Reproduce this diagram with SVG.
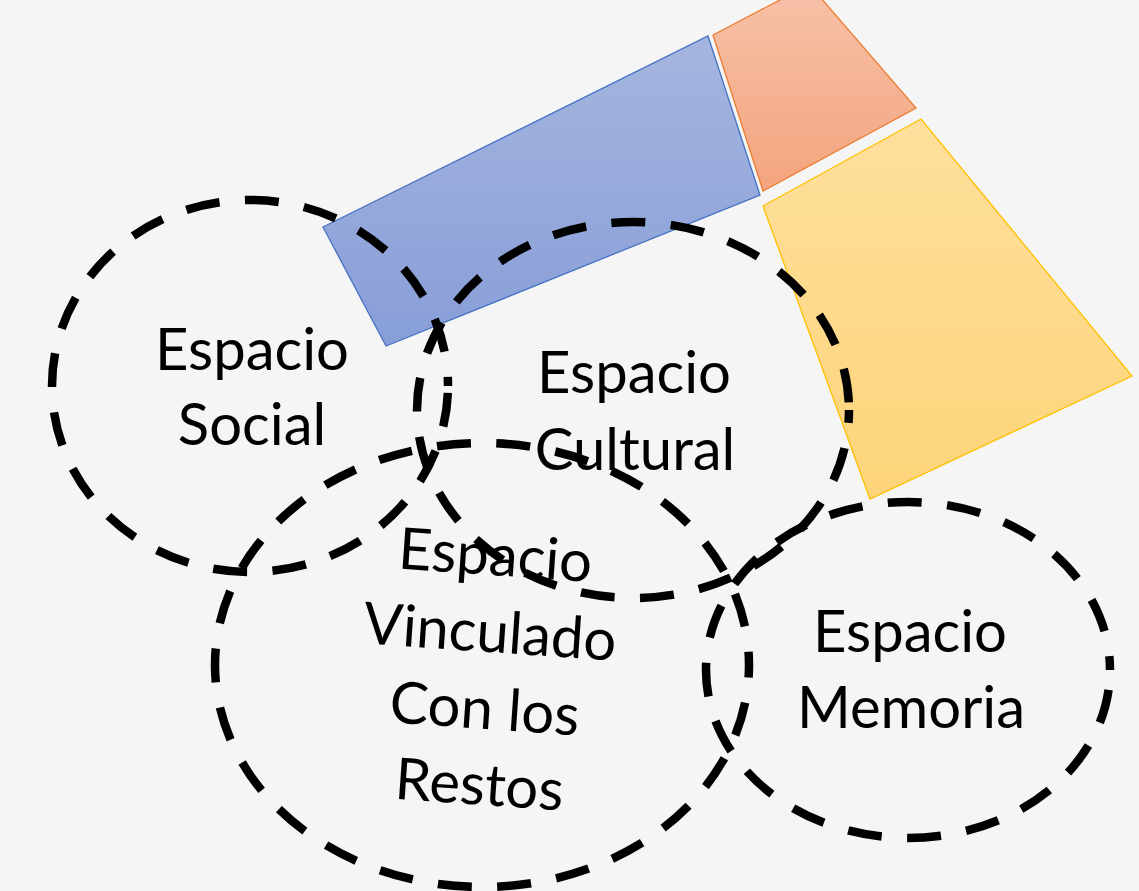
<svg xmlns="http://www.w3.org/2000/svg" width="1139" height="891" viewBox="0 0 1139 891">
  <defs>
    <linearGradient id="gBlue" x1="0" y1="0" x2="0" y2="1">
      <stop offset="0" stop-color="#a6b5df"/>
      <stop offset="1" stop-color="#889ed8"/>
    </linearGradient>
    <linearGradient id="gOrange" x1="0" y1="0" x2="0" y2="1">
      <stop offset="0" stop-color="#f7c1a8"/>
      <stop offset="1" stop-color="#f4a47e"/>
    </linearGradient>
    <linearGradient id="gYellow" x1="0" y1="0" x2="0" y2="1">
      <stop offset="0" stop-color="#fedf9c"/>
      <stop offset="1" stop-color="#fdd47a"/>
    </linearGradient>
  </defs>
  <style>
    .ring { fill: none; stroke: #000; stroke-width: 8.5; stroke-dasharray: 34 25.5; }
    .lbl { font-family: Lato, "Liberation Sans", sans-serif; font-size: 58px; fill: #000; text-anchor: middle; }
  </style>
  <rect x="0" y="0" width="1139" height="891" fill="#f5f5f5"/>

  <g id="shapes">
    <polygon id="blue-band" points="323,227 708,36 760,195 386,346" fill="url(#gBlue)" stroke="#4472c4" stroke-width="1.3"/>
    <polygon id="orange-band" points="713,35 799,-10 814,-10 916,108 763,191" fill="url(#gOrange)" stroke="#ed7d31" stroke-width="1.3"/>
    <polygon id="yellow-band" points="763,206 921,119 1132,376 870,499" fill="url(#gYellow)" stroke="#ffc000" stroke-width="1.3"/>
  </g>

  <g id="connectors"></g>

  <g id="espacio-social">
    <ellipse class="ring" cx="250" cy="386" rx="198" ry="186" stroke-dashoffset="-7"/>
    <text class="lbl" x="252" y="370">Espacio</text>
    <text class="lbl" x="252" y="445">Social</text>
  </g>

  <g id="espacio-cultural">
    <ellipse class="ring" cx="633" cy="410" rx="216" ry="188" stroke-dashoffset="21"/>
    <text class="lbl" x="634" y="393">Espacio</text>
    <text class="lbl" x="635" y="470">Cultural</text>
  </g>

  <g id="espacio-vinculado">
    <ellipse class="ring" cx="482" cy="665" rx="267" ry="222" stroke-dashoffset="-38"/>
    <g transform="rotate(4 487 690)">
      <text class="lbl" x="486" y="575">Espacio</text>
      <text class="lbl" x="486" y="652">Vinculado</text>
      <text class="lbl" x="486" y="729">Con los</text>
      <text class="lbl" x="486" y="805">Restos</text>
    </g>
  </g>

  <g id="espacio-memoria">
    <ellipse class="ring" cx="908" cy="670" rx="202" ry="168" stroke-dashoffset="-20"/>
    <text class="lbl" x="910" y="652">Espacio</text>
    <text class="lbl" x="911" y="728">Memoria</text>
  </g>
</svg>
